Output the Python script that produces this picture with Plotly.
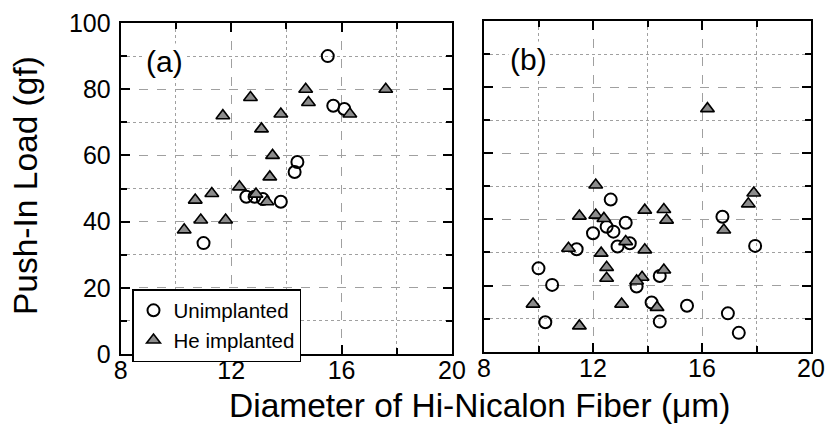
import plotly.graph_objects as go

# panel (a)
a_unimp_x = [15.5, 15.7, 16.1, 14.4, 14.3, 12.55, 12.85, 13.15, 13.8, 11.0]
a_unimp_y = [90, 75, 74, 58, 55, 47.5, 47.5, 46.8, 46, 33.5]
a_he_x = [12.7, 11.7, 13.8, 13.1, 14.7, 14.8, 16.3, 17.6, 13.5, 13.4, 12.3, 11.3, 10.7, 12.9, 13.3, 10.9, 11.8, 10.3]
a_he_y = [77.5, 72, 72.5, 68, 80, 76, 72.5, 80, 60, 53.5, 50.5, 48.5, 46.5, 48.3, 46, 40.5, 40.5, 37.5]

# panel (b)
b_unimp_x = [12.65, 13.2, 12.5, 12.75, 12.0, 13.35, 12.9, 11.4, 10.0, 10.5, 13.6, 14.45, 14.15, 14.45, 10.25, 15.45, 16.95, 17.35, 16.75, 17.95]
b_unimp_y = [46, 39, 37.8, 36.3, 35.8, 32.8, 31.8, 31, 25.2, 20.2, 19.7, 22.9, 14.9, 9.1, 8.9, 13.9, 11.6, 5.7, 40.8, 32]
b_he_x = [16.2, 12.1, 11.5, 12.1, 12.4, 13.9, 14.6, 14.7, 17.9, 17.7, 16.8, 13.2, 11.1, 12.3, 13.9, 12.5, 12.5, 13.8, 13.6, 14.6, 9.8, 13.05, 14.35, 11.5]
b_he_y = [73.5, 50.4, 41, 41.3, 40.3, 42.8, 43, 39.8, 48, 44.7, 36.8, 33.3, 31.3, 29.8, 30.8, 25.5, 22.2, 22.5, 21.4, 24.7, 14.4, 14.4, 13.4, 7.8]

x_major = [8, 12, 16, 20]
x_minor = [10, 14, 18]
y_major = [0, 20, 40, 60, 80, 100]
y_minor = [10, 30, 50, 70, 90]

FONT = "Liberation Sans, Arial, Helvetica, sans-serif"

# page body has an 8px margin all round, keep the figure inside the window
OFF = 8
W, H = 833 - 2 * OFF, 432 - 2 * OFF


def px(x):
    return (x - OFF) / W


def py(y):
    return 1 - (y - OFF) / H


circ = dict(symbol="circle-open", size=12, color="black", line=dict(width=2, color="black"))
tri = dict(symbol="triangle-up", size=12, color="#8c8c8c", line=dict(width=1.6, color="black"))

fig = go.Figure()
fig.add_trace(go.Scatter(x=a_unimp_x, y=a_unimp_y, mode="markers", marker=circ,
                         name="Unimplanted", xaxis="x", yaxis="y"))
fig.add_trace(go.Scatter(x=a_he_x, y=a_he_y, mode="markers", marker=tri,
                         name="He implanted", xaxis="x", yaxis="y"))
fig.add_trace(go.Scatter(x=b_unimp_x, y=b_unimp_y, mode="markers", marker=circ,
                         showlegend=False, xaxis="x2", yaxis="y2"))
fig.add_trace(go.Scatter(x=b_he_x, y=b_he_y, mode="markers", marker=tri,
                         showlegend=False, xaxis="x2", yaxis="y2"))


def ax(major, minor, rng, domain, labels=True, anchor=None, standoff=3):
    d = dict(
        range=rng, domain=domain, tickmode="array", tickvals=major,
        showticklabels=labels, ticks="inside", ticklen=9, tickwidth=1.5, tickcolor="black",
        showline=True, linecolor="black", linewidth=2, mirror="allticks",
        showgrid=True, gridcolor="#a0a0a0", gridwidth=1, griddash="dash",
        zeroline=False, automargin=False, ticklabeloverflow="allow",
        tickfont=dict(family=FONT, size=25, color="black"),
        ticklabelstandoff=standoff,
        minor=dict(tickmode="array", tickvals=minor, ticks="inside", ticklen=6,
                   tickwidth=1.5, tickcolor="black", showgrid=True,
                   gridcolor="#a0a0a0", gridwidth=1, griddash="dot"),
    )
    if anchor:
        d["anchor"] = anchor
    return d


fig.update_layout(
    width=W, height=H,
    margin=dict(l=0, r=0, t=0, b=0, autoexpand=False),
    paper_bgcolor="white", plot_bgcolor="white",
    font=dict(family=FONT, color="black"),
    xaxis=ax(x_major, x_minor, [8, 20], [px(120.7), px(452)], anchor="y", standoff=-7),
    yaxis=ax(y_major, y_minor, [0, 100], [py(354), py(23)], anchor="x"),
    xaxis2=ax(x_major, x_minor, [8, 20], [px(484), px(811)], anchor="y2", standoff=-7),
    yaxis2=ax(y_major, y_minor, [0, 100], [py(351.7), py(21)], labels=False, anchor="x2"),
    showlegend=True,
    legend=dict(x=px(132), y=py(289), xanchor="left", yanchor="top",
                bgcolor="white", bordercolor="black", borderwidth=1.5,
                font=dict(family=FONT, size=20.5, color="black"),
                itemwidth=30, tracegroupgap=0),
    annotations=[
        dict(text="(a)", x=px(164), y=py(61), xref="paper", yref="paper",
             xanchor="center", yanchor="middle",
             showarrow=False, font=dict(family=FONT, size=30), bgcolor="white"),
        dict(text="(b)", x=px(528), y=py(59), xref="paper", yref="paper",
             xanchor="center", yanchor="middle",
             showarrow=False, font=dict(family=FONT, size=30), bgcolor="white"),
        dict(text="Diameter of Hi-Nicalon Fiber (\u03bcm)", x=px(480), y=py(405),
             xref="paper", yref="paper", xanchor="center", yanchor="middle",
             showarrow=False, font=dict(family=FONT, size=33.5)),
        dict(text="Push-In Load (gf)", x=px(25), y=py(186), textangle=-90,
             xref="paper", yref="paper", xanchor="center", yanchor="middle",
             showarrow=False, font=dict(family=FONT, size=33.5)),
    ],
)

fig.write_html("out.html")
